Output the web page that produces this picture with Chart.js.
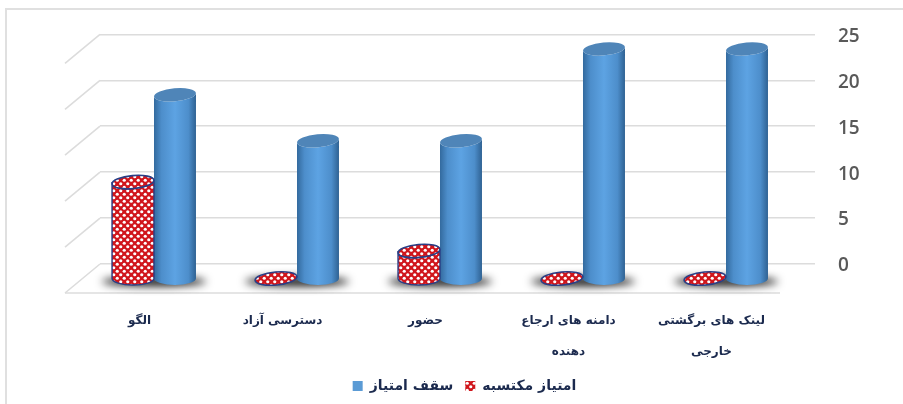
<!DOCTYPE html>
<html><head><meta charset="utf-8">
<style>
html,body{margin:0;padding:0;background:#fff;overflow:hidden}
#wrap{position:absolute;left:0;top:0;width:903px;height:404px}
#frame{position:absolute;left:5px;top:8px;right:0;bottom:0;border-left:2px solid #e0e0e0;border-top:2px solid #e0e0e0;pointer-events:none}
canvas{filter:blur(0.45px)}
</style>
<script src="https://cdn.jsdelivr.net/npm/chart.js@4/dist/chart.umd.min.js"></script>
</head><body>
<div id="wrap"><canvas id="c" width="903" height="404"></canvas><div id="frame"></div></div>
<script>
const categories=["الگو","دسترسی آزاد","حضور",["دامنه های ارجاع","دهنده"],["لینک های برگشتی","خارجی"]];
const acquiredLabel="امتیاز مکتسبه";
const ceilingLabel="سقف امتیاز";
const acquired=[10.5,0,3,0,0];
const ceiling=[20,15,15,25,25];
const yTicks=[0,5,10,15,20,25];

const depthX=-35, depthY=29, planeX=-17.5, planeY=14.5, ry=6.5, tilt=-0.09;
const ink="#1b2a4e", gridCol="#dcdcdc";

function makePattern(ctx){
  const s=document.createElement('canvas');s.width=7;s.height=7;
  const g=s.getContext('2d');
  g.fillStyle="#d0161c";g.fillRect(0,0,7,7);
  g.fillStyle="#ffffff";
  [[1.75,1.75],[5.25,5.25]].forEach(([x,y])=>{g.beginPath();g.arc(x,y,1.6,0,7);g.fill();});
  return ctx.createPattern(s,'repeat');
}
const cv=document.getElementById('c');
const redPattern=makePattern(cv.getContext('2d'));

const cylinders={
  id:'cylinders',
  beforeDatasetsDraw(chart){
    const c=chart.ctx,ya=chart.scales.y;
    chart.getDatasetMeta(1).data.forEach(el=>{
      const x=el.x+planeX-el.width/2,b=ya.getPixelForValue(0)+planeY;
      c.save();
      c.filter='blur(4px)';
      c.fillStyle='rgba(10,10,10,1)';
      c.beginPath();c.ellipse(x,b+3,52,4.5,0,0,7);c.fill();
      c.restore();
    });
  },
  beforeDatasetDraw(chart,args){
    const c=chart.ctx,i=args.index,ya=chart.scales.y;
    const base=ya.getPixelForValue(0)+planeY;
    const red=i===0;
    chart.getDatasetMeta(i).data.forEach(el=>{
      const x=el.x+planeX,top=el.y+planeY,hw=el.width/2;
      const h=base-top;
      c.save();
      if(h>0.5){
        c.beginPath();
        c.moveTo(x-hw,top);c.lineTo(x-hw,base);
        c.ellipse(x,base,hw,ry,0,Math.PI,0,true);
        c.lineTo(x+hw,top);
        c.ellipse(x,top,hw,ry,tilt,0,Math.PI,false);
        c.closePath();
        if(red){c.fillStyle=redPattern;c.fill();c.strokeStyle="#2a3f86";c.lineWidth=1.4;c.stroke();}
        else{
          const g=c.createLinearGradient(x-hw,0,x+hw,0);
          g.addColorStop(0,"#336a9e");g.addColorStop(0.18,"#4d8ecb");g.addColorStop(0.5,"#5da3e3");g.addColorStop(0.82,"#4d8ecb");g.addColorStop(1,"#2f6293");
          c.fillStyle=g;c.fill();
        }
      }
      c.beginPath();c.ellipse(x,top,hw,ry,tilt,0,7);
      if(red){c.fillStyle=redPattern;c.fill();c.strokeStyle="#2a3f86";c.lineWidth=1.6;c.stroke();}
      else{c.fillStyle="#4f85b8";c.fill();}
      c.restore();
    });
    return false;
  }
};
const wall={
  id:'wall',
  beforeDatasetsDraw(chart){
    const c=chart.ctx,ya=chart.scales.y,l=chart.chartArea.left;
    c.save();c.strokeStyle=gridCol;c.lineWidth=1.6;
    yTicks.forEach(v=>{
      const y=ya.getPixelForValue(v);
      c.beginPath();c.moveTo(l,y);c.lineTo(l+depthX,y+depthY);c.stroke();
    });
    const y0=ya.getPixelForValue(0)+depthY;
    c.beginPath();c.moveTo(l+depthX,y0);c.lineTo(chart.chartArea.right+depthX,y0);c.stroke();
    c.restore();
  }
};
const legendShift={
  id:'legendShift',
  afterLayout(chart){chart.legend.left+=7;chart.legend.right+=7;}
};
new Chart(cv,{
  type:'bar',
  data:{labels:categories,datasets:[
    {label:acquiredLabel,data:acquired,backgroundColor:redPattern,borderColor:"#8c1a1a",categoryPercentage:0.587,barPercentage:1},
    {label:ceilingLabel,data:ceiling,backgroundColor:"#5b9bd5",categoryPercentage:0.587,barPercentage:1}
  ]},
  plugins:[wall,cylinders,legendShift],
  options:{
    responsive:false,animation:false,
    layout:{padding:{left:100,top:31,right:0,bottom:1}},
    plugins:{
      tooltip:{enabled:false},
      legend:{position:'bottom',reverse:true,fullSize:false,
        labels:{boxWidth:10,boxHeight:10,padding:12,color:ink,font:{family:"'DejaVu Sans'",size:14,weight:'bold'}}}
    },
    scales:{
      x:{grid:{display:false},border:{display:false},
        afterFit(s){s.height=103;},
        ticks:{padding:33,maxRotation:0,autoSkip:false,labelOffset:-32,color:ink,
          font:{family:"'DejaVu Sans'",size:12,weight:'bold',lineHeight:2.6}}},
      y:{position:'right',min:0,max:25,
        afterFit(s){s.width=88;},
        grid:{color:gridCol,lineWidth:1.6,drawTicks:false},border:{display:false},
        ticks:{stepSize:5,padding:23,labelOffset:2,color:"#595959",font:{family:"'Open Sans'",size:19,weight:'600'}}}
    }
  }
});
</script>
</body></html>
